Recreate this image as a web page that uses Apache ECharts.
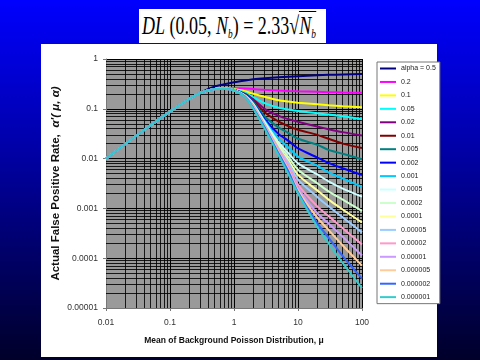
<!DOCTYPE html>
<html><head><meta charset="utf-8">
<script src="https://cdn.jsdelivr.net/npm/echarts@6/dist/echarts.min.js"></script>
<style>
html,body{margin:0;padding:0;width:480px;height:360px;overflow:hidden;background:linear-gradient(#0000ff,#00002a);}
#panel{position:absolute;left:41px;top:44px;width:396px;height:313px;background:#fff;}
#chart{position:absolute;left:0;top:0;width:480px;height:360px;}
#title{position:absolute;left:139px;top:9px;width:187px;height:34px;background:#fff;overflow:hidden;}
#title .f{position:absolute;left:3px;top:0;font-family:'Liberation Serif','Times New Roman',serif;font-size:25px;line-height:34px;white-space:nowrap;transform:scaleX(0.72);transform-origin:0 50%;color:#000;}
#title sub{font-size:13px;vertical-align:-4px;line-height:0;}
#title .ov{border-top:1px solid #000;}
</style></head>
<body>
<div id="panel"></div>
<div id="chart"></div>
<div id="title"><span class="f"><i>DL</i> (0.05, <i>N</i><sub><i>b</i></sub>) = 2.33√<span class="ov"><i>N</i><sub><i>b</i></sub></span></span></div>
<script>
// ---- data ----
const xValues = [0.01,0.02,0.05,0.1,0.2,0.3,0.5,0.7,1,1.5,2,3,5,7,10,20,30,50,100];
const seriesNames = ['alpha = 0.5','0.2','0.1','0.05','0.02','0.01','0.005','0.002','0.001','0.0005','0.0002','0.0001','0.00005','0.00002','0.00001','0.000005','0.000002','0.000001'];
const alpha_5e_1 = [0.01,0.0197,0.047,0.088,0.158,0.212,0.28,0.31,0.34,0.37,0.39,0.41,0.43,0.44,0.45,0.47,0.48,0.49,0.5];
const alpha_2e_1 = [0.01,0.0197,0.047,0.088,0.158,0.21,0.25,0.262,0.26,0.255,0.25,0.24,0.232,0.228,0.225,0.22,0.216,0.212,0.21];
const alpha_1e_1 = [0.01,0.0197,0.047,0.088,0.158,0.21,0.25,0.26,0.25,0.225,0.2,0.175,0.148,0.14,0.133,0.123,0.118,0.113,0.107];
const alpha_5e_2 = [0.01,0.0197,0.047,0.088,0.158,0.21,0.25,0.258,0.245,0.21,0.17,0.13,0.105,0.097,0.09,0.081,0.077,0.071,0.062];
const alpha_2e_2 = [0.01,0.0197,0.047,0.088,0.158,0.21,0.25,0.257,0.24,0.2,0.155,0.1,0.072,0.062,0.055,0.044,0.039,0.034,0.029];
const alpha_1e_2 = [0.01,0.0197,0.047,0.088,0.158,0.21,0.25,0.257,0.24,0.195,0.145,0.085,0.055,0.045,0.038,0.03,0.025,0.02,0.0163];
const alpha_5e_3 = [0.01,0.0197,0.047,0.088,0.158,0.21,0.25,0.256,0.238,0.19,0.138,0.07,0.042,0.033,0.025,0.019,0.015,0.0125,0.0097];
const alpha_2e_3 = [0.01,0.0197,0.047,0.088,0.158,0.21,0.25,0.256,0.237,0.187,0.132,0.062,0.031,0.023,0.016,0.0105,0.0082,0.0064,0.0047];
const alpha_1e_3 = [0.01,0.0197,0.047,0.088,0.158,0.21,0.25,0.256,0.237,0.185,0.128,0.058,0.025,0.017,0.011,0.0072,0.0053,0.004,0.0027];
const alpha_5e_4 = [0.01,0.0197,0.047,0.088,0.158,0.21,0.25,0.255,0.236,0.183,0.125,0.055,0.021,0.013,0.008,0.0048,0.0035,0.0025,0.00172];
const alpha_2e_4 = [0.01,0.0197,0.047,0.088,0.158,0.21,0.25,0.255,0.236,0.181,0.122,0.053,0.019,0.011,0.006,0.0032,0.0022,0.0015,0.00089];
const alpha_1e_4 = [0.01,0.0197,0.047,0.088,0.158,0.21,0.25,0.255,0.236,0.18,0.12,0.051,0.017,0.0095,0.0047,0.0023,0.0015,0.00095,0.00052];
const alpha_5e_5 = [0.01,0.0197,0.047,0.088,0.158,0.21,0.25,0.255,0.235,0.178,0.117,0.049,0.016,0.0085,0.0038,0.0017,0.0011,0.00066,0.00033];
const alpha_2e_5 = [0.01,0.0197,0.047,0.088,0.158,0.21,0.25,0.254,0.235,0.177,0.114,0.047,0.015,0.0075,0.003,0.0011,0.0007,0.0004,0.000188];
const alpha_1e_5 = [0.01,0.0197,0.047,0.088,0.158,0.21,0.25,0.254,0.235,0.176,0.111,0.046,0.014,0.0068,0.0026,0.0008,0.0005,0.00027,0.000113];
const alpha_5e_6 = [0.01,0.0197,0.047,0.088,0.158,0.21,0.25,0.254,0.234,0.175,0.108,0.045,0.0135,0.0062,0.0023,0.00065,0.00037,0.00018,0.000071];
const alpha_2e_6 = [0.01,0.0197,0.047,0.088,0.158,0.21,0.25,0.254,0.234,0.173,0.104,0.043,0.0125,0.0057,0.0021,0.0005,0.00026,0.00011,0.000039];
const alpha_1e_6 = [0.01,0.0197,0.047,0.088,0.158,0.21,0.25,0.253,0.233,0.17,0.1,0.04,0.0115,0.005,0.002,0.00043,0.0002,0.00008,0.000025];
const seriesValues = [alpha_5e_1,alpha_2e_1,alpha_1e_1,alpha_5e_2,alpha_2e_2,alpha_1e_2,alpha_5e_3,alpha_2e_3,alpha_1e_3,alpha_5e_4,alpha_2e_4,alpha_1e_4,alpha_5e_5,alpha_2e_5,alpha_1e_5,alpha_5e_6,alpha_2e_6,alpha_1e_6];
const xTickLabels = ['0.01','0.1','1','10','100'];
const yTickLabels = ['0.00001','0.0001','0.001','0.01','0.1','1'];
const xAxisTitle = 'Mean of Background Poisson Distribution, μ';
const yAxisTitleMain = 'Actual False Positive Rate,';
const yAxisTitleSym = "α'( μ, α)";

// ---- styles ----
const colors = ['#000080','#FF00FF','#FFFF00','#00FFFF','#800080','#800000','#008080','#0000FF','#00CCFF','#CCFFFF','#CCFFCC','#FFFF99','#99CCFF','#FF99CC','#CC99FF','#FFCC99','#3366FF','#33CCCC'];
const SANS = "'Liberation Sans', Arial, sans-serif";
const X_MIN = 0.01, X_MAX = 100, Y_MIN = 0.00001, Y_MAX = 1;

// minor log gridline positions (2..9 within each decade)
const minorX = [], minorY = [];
for (let d = -2; d <= 1; d++) for (let k = 2; k <= 9; k++) minorX.push(+(k * Math.pow(10, d)).toPrecision(3));
for (let d = -5; d <= -1; d++) for (let k = 2; k <= 9; k++) minorY.push(+(k * Math.pow(10, d)).toPrecision(3));
const gridLines = minorX.map(v => ({coords: [[v, Y_MIN], [v, Y_MAX]]}))
  .concat(minorY.map(v => ({coords: [[X_MIN, v], [X_MAX, v]]})));

const chart = echarts.init(document.getElementById('chart'), null, {renderer: 'canvas'});
const series = [{
  type: 'lines', coordinateSystem: 'cartesian2d', name: '__grid', z: 1, silent: true,
  polyline: false, effect: {show: false},
  lineStyle: {color: '#000', width: 1, type: 'solid', opacity: 0.85},
  emphasis: {disabled: true},
  data: gridLines
}];
seriesNames.forEach((name, i) => {
  series.push({
    type: 'line', name: name, z: 2,
    data: xValues.map((x, j) => [x, seriesValues[i][j]]),
    showSymbol: false, symbol: 'none',
    smooth: 0.25,
    lineStyle: {width: 2, color: colors[i]},
    itemStyle: {color: colors[i]},
    emphasis: {disabled: true}
  });
});

chart.setOption({
  animation: false,
  backgroundColor: 'transparent',
  grid: {left: 106, top: 59, width: 256, height: 249, show: true, backgroundColor: '#9a9a9a', borderWidth: 0},
  xAxis: {
    type: 'log', logBase: 10, min: X_MIN, max: X_MAX,
    axisLine: {show: true, lineStyle: {color: '#777', width: 1}},
    axisTick: {show: true, length: 3, lineStyle: {color: '#777'}},
    axisLabel: {fontSize: 8.5, color: '#333', fontFamily: SANS, margin: 10,
      formatter: v => xTickLabels[Math.round(Math.log10(v)) + 2]},
    splitLine: {show: true, lineStyle: {color: '#000', width: 1}},
    name: xAxisTitle, nameLocation: 'middle', nameGap: 28, nameMoveOverlap: false,
    nameTextStyle: {fontSize: 8.5, fontWeight: 'bold', color: '#111', fontFamily: SANS}
  },
  yAxis: {
    type: 'log', logBase: 10, min: Y_MIN, max: Y_MAX,
    axisLine: {show: true, lineStyle: {color: '#777', width: 1}},
    axisTick: {show: true, length: 3, lineStyle: {color: '#777'}},
    axisLabel: {fontSize: 8.5, color: '#333', fontFamily: SANS, margin: 8,
      formatter: v => yTickLabels[Math.round(Math.log10(v)) + 5]},
    splitLine: {show: true, lineStyle: {color: '#000', width: 1}},
    name: '{a|' + yAxisTitleMain + '}  {g|' + yAxisTitleSym + '}',
    nameLocation: 'middle', nameGap: 44, nameRotate: 90, nameMoveOverlap: false,
    nameTextStyle: {
      color: '#111',
      rich: {
        a: {fontSize: 11.5, fontWeight: 'bold', color: '#111', fontFamily: SANS},
        g: {fontSize: 11.5, fontWeight: 'bold', fontStyle: 'italic', color: '#111', fontFamily: SANS}
      }
    }
  },
  legend: {
    orient: 'vertical', left: 377, top: 62, padding: [2, 4, 2, 3],
    itemWidth: 16, itemHeight: 2, itemGap: 4.45, icon: 'rect',
    backgroundColor: '#fff', borderColor: '#777', borderWidth: 1, borderRadius: 0,
    selectedMode: false,
    textStyle: {fontSize: 7, color: '#222', fontFamily: SANS, lineHeight: 9},
    data: seriesNames
  },
  series: series
});
</script>
</body></html>
